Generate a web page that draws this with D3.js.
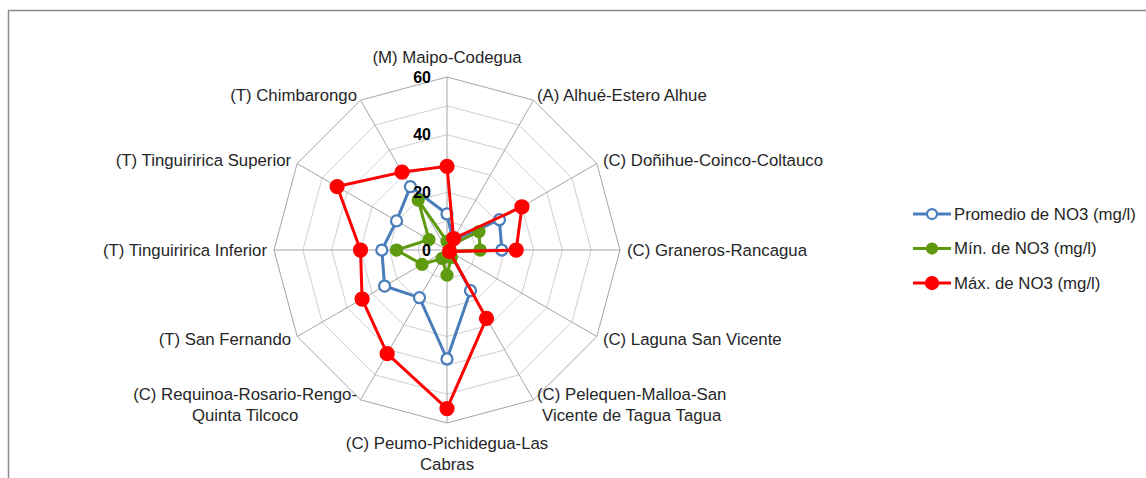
<!DOCTYPE html>
<html lang="es">
<head>
<meta charset="UTF-8">
<title>NO3 radar</title>
<script src="https://cdn.jsdelivr.net/npm/d3@7"></script>
<style>
  body { margin: 0; background: #fff; }
  svg { display: block; font-family: "Liberation Sans", Arial, sans-serif; }
  .ring { fill: none; stroke: #d0d0d0; stroke-width: 1; }
  .ring.outer { stroke: #a6a6a6; }
  .spoke { stroke: #a6a6a6; stroke-width: 1; }
  .tick-label { font-size: 16px; font-weight: bold; fill: #000; }
  .cat-label { font-size: 16.8px; fill: #262626; }
  .legend-text { font-size: 16.8px; fill: #262626; }
</style>
</head>
<body>
<div id="root"></div>
<script>
// categorias en sentido horario desde arriba
const categories = [
  "(M) Maipo-Codegua",
  "(A) Alhué-Estero Alhue",
  "(C) Doñihue-Coinco-Coltauco",
  "(C) Graneros-Rancagua",
  "(C) Laguna San Vicente",
  "(C) Pelequen-Malloa-San Vicente de Tagua Tagua",
  "(C) Peumo-Pichidegua-Las Cabras",
  "(C) Requinoa-Rosario-Rengo-Quinta Tilcoco",
  "(T) San Fernando",
  "(T) Tinguiririca Inferior",
  "(T) Tinguiririca Superior",
  "(T) Chimbarongo"
]
const promedio = [12.5, 4, 21, 19, 1, 16.3, 37.8, 19.1, 25, 22.6, 20.2, 25.4]
const minimo   = [3, 2, 12.8, 11.5, 1, 3, 8.7, 3.4, 10, 17.5, 7.2, 20]
const maximo   = [29, 4.6, 30, 24, 1, 27.4, 55, 41.5, 34, 30, 44, 31.2]
const tickValues = [0, 20, 40, 60]
const ringValues = [10, 20, 30, 40, 50, 60]
const seriesNames = ["Promedio de NO3 (mg/l)", "Mín. de NO3 (mg/l)", "Máx. de NO3 (mg/l)"]

const width = 1146, height = 478
const cx = 447, cy = 250, R = 173

const series = [
  { name: seriesNames[0], values: promedio, color: "#4a7ebb", fill: "#fff", r: 5.5, sw: 3 },
  { name: seriesNames[1], values: minimo,   color: "#5e9a0e", fill: "#5e9a0e", r: 5.5, sw: 3 },
  { name: seriesNames[2], values: maximo,   color: "#ff0000", fill: "#ff0000", r: 6.5, sw: 3 }
]

const svg = d3.select("#root").append("svg").attr("width", width).attr("height", height)

// borde del grafico
svg.append("rect")
  .attr("x", 8.5).attr("y", 10.5)
  .attr("width", width + 20).attr("height", height + 20)
  .attr("fill", "none").attr("stroke", "#8c8c8c").attr("stroke-width", 1.5)

const rScale = d3.scaleLinear().domain([0, 60]).range([0, R])
const angle = d3.scalePoint().domain(d3.range(categories.length)).range([0, 2 * Math.PI * (11 / 12)])

const px = (i, v) => cx + rScale(v) * Math.sin(angle(i))
const py = (i, v) => cy - rScale(v) * Math.cos(angle(i))

const g = svg.append("g")

// anillos
ringValues.forEach(v => {
  g.append("path")
    .attr("class", v === 60 ? "ring outer" : "ring")
    .attr("d", d3.line()(categories.map((c, i) => [px(i, v), py(i, v)])) + "Z")
})

// radios
g.selectAll("line.spoke").data(categories).enter().append("line")
  .attr("class", "spoke")
  .attr("x1", cx).attr("y1", cy)
  .attr("x2", (d, i) => px(i, 60)).attr("y2", (d, i) => py(i, 60))

// series
series.forEach(s => {
  const pts = s.values.map((v, i) => [px(i, v), py(i, v)])
  g.append("path")
    .attr("d", d3.line()(pts) + "Z")
    .attr("fill", "none").attr("stroke", s.color)
    .attr("stroke-width", s.sw).attr("stroke-linejoin", "round")
  g.append("g").selectAll("circle").data(pts).enter().append("circle")
    .attr("cx", d => d[0]).attr("cy", d => d[1]).attr("r", s.r)
    .attr("fill", s.fill).attr("stroke", s.color).attr("stroke-width", 2.25)
})

// etiquetas del eje
g.selectAll("text.tick-label").data(tickValues).enter().append("text")
  .attr("class", "tick-label")
  .attr("x", cx - 16).attr("y", d => cy - rScale(d))
  .attr("dy", "0.35em").attr("text-anchor", "end")
  .text(d => d)

// etiquetas de categorias (con salto de linea)
const maxW = 236
const measure = (txt) => {
  const probe = svg.append("text").attr("class", "cat-label").text(txt)
  const w = probe.node().getComputedTextLength()
  probe.remove()
  return w
}
const wrap = (text) => {
  const tokens = text.match(/[^\s-]+-?\s?|\s/g)
  const lines = []
  let cur = ""
  tokens.forEach(t => {
    const test = cur + t
    if (cur && measure(test.trim()) > maxW) {
      lines.push(cur.trim()); cur = t
    } else cur = test
  })
  lines.push(cur.trim())
  return lines
}

categories.forEach((c, i) => {
  const a = angle(i), s = Math.sin(a), co = Math.cos(a)
  const lines = wrap(c)
  const lh = 21
  const t = g.append("text").attr("class", "cat-label")
  let x = px(i, 60), y = py(i, 60), anchor = "middle"
  if (Math.abs(s) < 0.01) {
    y += co > 0 ? -20 - (lines.length - 1) * lh : 20
  } else {
    x += s * 7
    y -= co * 6 + (lines.length - 1) * lh / 2
    anchor = s > 0 ? "start" : "end"
  }
  // bloque centrado sobre la linea mas larga
  const bw = d3.max(lines, measure)
  const mid = anchor === "start" ? x + bw / 2 : anchor === "end" ? x - bw / 2 : x
  t.attr("text-anchor", "middle")
  lines.forEach((l, k) => {
    t.append("tspan").attr("x", mid).attr("y", y + k * lh).attr("dy", "0.35em").text(l)
  })
})

// leyenda
const leg = svg.append("g").attr("transform", "translate(913, 214)")
series.forEach((s, k) => {
  const row = leg.append("g").attr("transform", `translate(0, ${k * 34.5})`)
  row.append("line").attr("x1", 0).attr("x2", 38).attr("y1", 0).attr("y2", 0)
    .attr("stroke", s.color).attr("stroke-width", 3)
  row.append("circle").attr("cx", 19).attr("cy", 0).attr("r", s.r - 0.5)
    .attr("fill", s.fill).attr("stroke", s.color).attr("stroke-width", 2.25)
  row.append("text").attr("class", "legend-text").attr("x", 41).attr("y", 0)
    .attr("dy", "0.35em").text(s.name)
})
</script>
</body>
</html>
